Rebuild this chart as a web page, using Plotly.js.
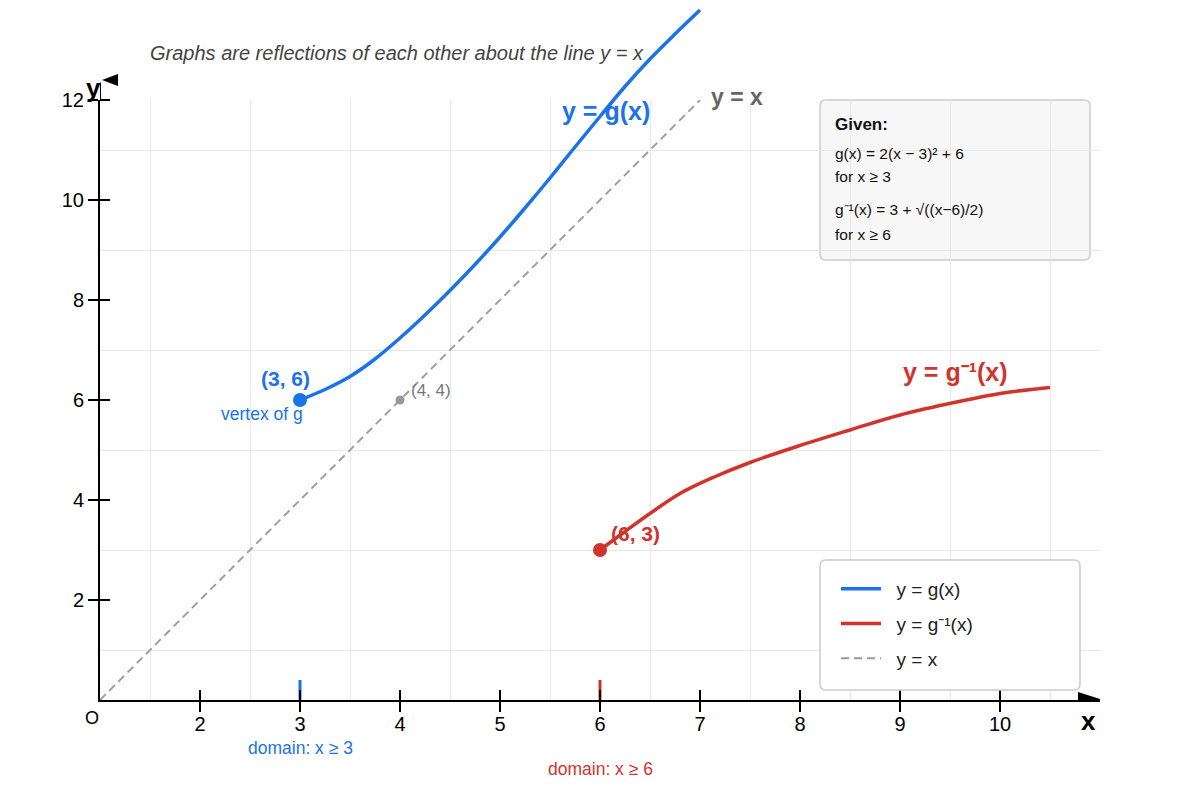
<!DOCTYPE html>
<html>
<head>
<meta charset="utf-8">
<script src="https://cdn.plot.ly/plotly-3.0.1.min.js"></script>
<style>html,body{margin:0;padding:0;background:#fff;}#chart{width:1200px;height:800px;}</style>
</head>
<body>
<div id="chart"></div>
<script>
// ---- data ----
const gX = [3, 3.25, 3.5, 3.75, 4, 4.25, 4.5, 4.75, 5, 5.25, 5.5, 5.75, 6, 6.25, 6.5, 6.75, 7];
const gY = [6.0, 6.21, 6.47, 6.82, 7.24, 7.7, 8.19, 8.71, 9.26, 9.84, 10.44, 11.06, 11.67, 12.27, 12.82, 13.32, 13.8];
const gInvX = [6, 6.25, 6.5, 6.8, 7.13, 7.5, 7.97, 8.5, 9, 9.5, 10, 10.5];
const gInvY = [3.0, 3.37, 3.73, 4.13, 4.45, 4.75, 5.07, 5.4, 5.7, 5.93, 6.13, 6.25];
const identityX = [1, 7];
const identityY = [0, 12];
const pointX = [3, 6, 4];
const pointY = [6, 3, 6];
const pointLabels = ['(3, 6)', '(6, 3)', '(4, 4)'];
const domainX = [3, 6];
const domainLabels = ['domain: x \u2265 3', 'domain: x \u2265 6'];
const xTickVals = [2, 3, 4, 5, 6, 7, 8, 9, 10];
const xTickText = ['2', '3', '4', '5', '6', '7', '8', '9', '10'];
const yTickVals = [2, 4, 6, 8, 10, 12];
const yTickText = ['2', '4', '6', '8', '10', '12'];
const xGrid = [1.5, 2.5, 3.5, 4.5, 5.5, 6.5, 7.5, 8.5, 9.5, 10.5];
const yGrid = [1, 3, 5, 7, 9, 11];
const legendNames = ['y = g(x)', 'y = g\u207B\u00B9(x)', 'y = x'];
const givenLines = ['g(x) = 2(x \u2212 3)\u00B2 + 6', 'for x \u2265 3', 'g\u207B\u00B9(x) = 3 + \u221A((x\u22126)/2)', 'for x \u2265 6'];

// ---- styles ----
const FONT = 'Liberation Sans, Arial, sans-serif';
const BLUE = '#1a73e8';
const RED = '#d0342c';
const GRAY = '#999999';
const W = 1200, H = 800;
const px = v => v / W;
const py = v => 1 - v / H;
const PAD = '\u00A0\u00A0';

const traces = [
  {x: gX, y: gY, xaxis: 'x2', yaxis: 'y2', mode: 'lines', name: PAD + legendNames[0], hoverinfo: 'skip', legendgroup: 'g1',
   line: {color: BLUE, width: 3.5, shape: 'spline', smoothing: 1}},
  {x: gInvX, y: gInvY, xaxis: 'x2', yaxis: 'y2', mode: 'lines', name: PAD + legendNames[1], hoverinfo: 'skip', legendgroup: 'g2',
   line: {color: RED, width: 3.5, shape: 'spline', smoothing: 1}},
  {x: identityX, y: identityY, xaxis: 'x', yaxis: 'y', mode: 'lines', name: PAD + legendNames[2], hoverinfo: 'skip', legendgroup: 'g3',
   line: {color: GRAY, width: 1.8, dash: '8px,5px'}},
  {x: [domainX[0], domainX[0]], y: [0, 0.4], xaxis: 'x2', yaxis: 'y2', mode: 'lines', showlegend: false,
   line: {color: BLUE, width: 3}, hoverinfo: 'skip'},
  {x: [domainX[1], domainX[1]], y: [0, 0.4], xaxis: 'x2', yaxis: 'y2', mode: 'lines', showlegend: false,
   line: {color: RED, width: 3}, hoverinfo: 'skip'},
  {x: pointX, y: pointY, xaxis: 'x2', yaxis: 'y2', mode: 'markers', showlegend: false, cliponaxis: false,
   hoverinfo: 'skip', marker: {color: [BLUE, RED, GRAY], size: [14, 14, 9], opacity: 1, line: {width: 0}}}
];

const annotations = [
  {x: pointX[0], y: pointY[0], xref: 'x2', yref: 'y2', text: '<b>' + pointLabels[0] + '</b>', showarrow: false,
   xshift: -15, yshift: 22, font: {family: FONT, size: 21, color: BLUE}},
  {x: pointX[0], y: pointY[0], xref: 'x2', yref: 'y2', text: 'vertex of g', showarrow: false,
   xshift: -38, yshift: -14, font: {family: FONT, size: 17.5, color: BLUE}},
  {x: pointX[1], y: pointY[1], xref: 'x2', yref: 'y2', text: '<b>' + pointLabels[1] + '</b>', showarrow: false,
   xshift: 35, yshift: 17, font: {family: FONT, size: 21, color: RED}},
  {x: pointX[2], y: pointY[2], xref: 'x2', yref: 'y2', text: pointLabels[2], showarrow: false,
   xshift: 31, yshift: 10, font: {family: FONT, size: 17, color: '#777'}},
  {x: 6.06, y: 11.78, xref: 'x2', yref: 'y2', text: '<b>y = g(x)</b>', showarrow: false,
   font: {family: FONT, size: 25, color: BLUE}},
  {x: 9.55, y: 6.56, xref: 'x2', yref: 'y2', text: '<b>y = g\u207B\u00B9(x)</b>', showarrow: false,
   font: {family: FONT, size: 25, color: RED}},
  {x: identityX[1], y: identityY[1], xref: 'x2', yref: 'y2', text: '<b>y = x</b>', showarrow: false,
   xshift: 37, yshift: 3, font: {family: FONT, size: 23, color: '#666'}},
  {x: domainX[0], y: 0, xref: 'x2', yref: 'y2', text: domainLabels[0], showarrow: false,
   yshift: -48, font: {family: FONT, size: 17.5, color: BLUE}},
  {x: domainX[1], y: 0, xref: 'x2', yref: 'y2', text: domainLabels[1], showarrow: false,
   yshift: -69, font: {family: FONT, size: 17.5, color: RED}},
  {x: 1, y: 0, xref: 'x2', yref: 'y2', text: 'O', showarrow: false,
   xshift: -8, yshift: -18, font: {family: FONT, size: 18, color: '#000'}},
  {x: 11, y: 0, xref: 'x2', yref: 'y2', text: '<b>x</b>', showarrow: false,
   xshift: -12, yshift: -21, font: {family: FONT, size: 26, color: '#000'}},
  {x: 1, y: 12, xref: 'x2', yref: 'y2', text: '<b>y</b>', showarrow: false,
   xshift: -7, yshift: 12, font: {family: FONT, size: 26, color: '#000'}},
  {x: px(833), y: py(124), xref: 'paper', yref: 'paper', xanchor: 'left', yanchor: 'middle', text: '<b>Given:</b>',
   showarrow: false, font: {family: FONT, size: 17, color: '#111'}},
  {x: px(833), y: py(153), xref: 'paper', yref: 'paper', xanchor: 'left', yanchor: 'middle', text: givenLines[0],
   showarrow: false, font: {family: FONT, size: 15.5, color: '#111'}},
  {x: px(833), y: py(177), xref: 'paper', yref: 'paper', xanchor: 'left', yanchor: 'middle', text: givenLines[1],
   showarrow: false, font: {family: FONT, size: 15.5, color: '#111'}},
  {x: px(833), y: py(210), xref: 'paper', yref: 'paper', xanchor: 'left', yanchor: 'middle', text: givenLines[2],
   showarrow: false, font: {family: FONT, size: 15.5, color: '#111'}},
  {x: px(833), y: py(234), xref: 'paper', yref: 'paper', xanchor: 'left', yanchor: 'middle', text: givenLines[3],
   showarrow: false, font: {family: FONT, size: 15.5, color: '#111'}}
];

function roundRect(x0p, y0p, x1p, y1p, r) {
  const x0 = px(x0p), x1 = px(x1p), y0 = py(y0p), y1 = py(y1p), rx = r / W, ry = r / H;
  return `M ${x0 + rx},${y0} L ${x1 - rx},${y0} Q ${x1},${y0} ${x1},${y0 - ry} L ${x1},${y1 + ry} ` +
         `Q ${x1},${y1} ${x1 - rx},${y1} L ${x0 + rx},${y1} Q ${x0},${y1} ${x0},${y1 + ry} ` +
         `L ${x0},${y0 - ry} Q ${x0},${y0} ${x0 + rx},${y0} Z`;
}

const shapes = [
  {type: 'path', xref: 'paper', yref: 'paper', path: roundRect(820, 100, 1090, 260, 6), fillcolor: '#f7f7f7',
   line: {color: '#cccccc', width: 1.5}, layer: 'below'},
  {type: 'path', xref: 'paper', yref: 'paper', path: roundRect(820, 560, 1080, 690, 6), fillcolor: '#ffffff',
   line: {color: '#cccccc', width: 1.5}, layer: 'above'},
  // y axis extension to the arrow
  {type: 'line', xref: 'x2', yref: 'y2', x0: 1, x1: 1, y0: 12, y1: 12.35, line: {color: '#000', width: 2}},
  // x axis arrowhead
  {type: 'path', xref: 'x2', yref: 'y2', xsizemode: 'pixel', ysizemode: 'pixel', xanchor: 11, yanchor: 0,
   path: 'M -22,-8 L 3,0 L -22,8 Z', fillcolor: '#000', line: {width: 0}},
  // y axis arrowhead (drawn pointing left as in the reference)
  {type: 'path', xref: 'x2', yref: 'y2', xsizemode: 'pixel', ysizemode: 'pixel', xanchor: 1, yanchor: 12,
   path: 'M 2,20 L 18,26 L 18,14 Z', fillcolor: '#000', line: {width: 0}}
];

const axBase = {fixedrange: true, zeroline: false, showgrid: false};
const layout = {
  width: W, height: H,
  margin: {l: 0, r: 0, t: 0, b: 0},
  paper_bgcolor: '#ffffff', plot_bgcolor: 'rgba(0,0,0,0)',
  font: {family: FONT, color: '#000'},
  title: {text: '<i>Graphs are reflections of each other about the line y = x</i>',
          x: px(150), xanchor: 'left', xref: 'paper', y: py(53), yanchor: 'middle', yref: 'container',
          font: {family: FONT, size: 20, color: '#444'}},
  xaxis: Object.assign({}, axBase, {domain: [px(100), px(1100)], range: [1, 11], anchor: 'y',
    showline: true, linecolor: '#000', linewidth: 2,
    ticks: 'outside', ticklen: 10, tickwidth: 2, tickcolor: '#000', ticklabelstandoff: -5,
    tickmode: 'array', tickvals: xTickVals, ticktext: xTickText,
    tickfont: {family: FONT, size: 20, color: '#000'},
    minor: {tickmode: 'array', tickvals: xGrid, showgrid: true, gridcolor: '#e8e8e8', gridwidth: 1, ticks: ''}}),
  yaxis: Object.assign({}, axBase, {domain: [py(700), py(100)], range: [0, 12], anchor: 'x',
    showline: true, linecolor: '#000', linewidth: 2,
    ticks: 'outside', ticklen: 10, tickwidth: 2, tickcolor: '#000',
    tickmode: 'array', tickvals: yTickVals, ticktext: yTickText,
    tickfont: {family: FONT, size: 20, color: '#000'},
    minor: {tickmode: 'array', tickvals: yGrid, showgrid: true, gridcolor: '#e8e8e8', gridwidth: 1, ticks: ''}}),
  xaxis2: Object.assign({}, axBase, {domain: [px(100), px(1100)], range: [1, 11], anchor: 'y2',
    showline: false, ticks: 'inside', ticklen: 10, tickwidth: 2, tickcolor: '#000',
    tickmode: 'array', tickvals: xTickVals, showticklabels: false}),
  yaxis2: Object.assign({}, axBase, {domain: [py(700), 1], range: [0, 14], anchor: 'x2',
    showline: false, ticks: 'inside', ticklen: 10, tickwidth: 2, tickcolor: '#000',
    tickmode: 'array', tickvals: yTickVals, showticklabels: false}),
  showlegend: true,
  legend: {x: px(836), y: py(570), xanchor: 'left', yanchor: 'top',
    bgcolor: 'rgba(0,0,0,0)', borderwidth: 0,
    font: {family: FONT, size: 19, color: '#222'}, tracegroupgap: 7, itemwidth: 40},
  annotations: annotations,
  shapes: shapes
};

Plotly.newPlot('chart', traces, layout, {displayModeBar: false, staticPlot: true});
</script>
</body>
</html>
